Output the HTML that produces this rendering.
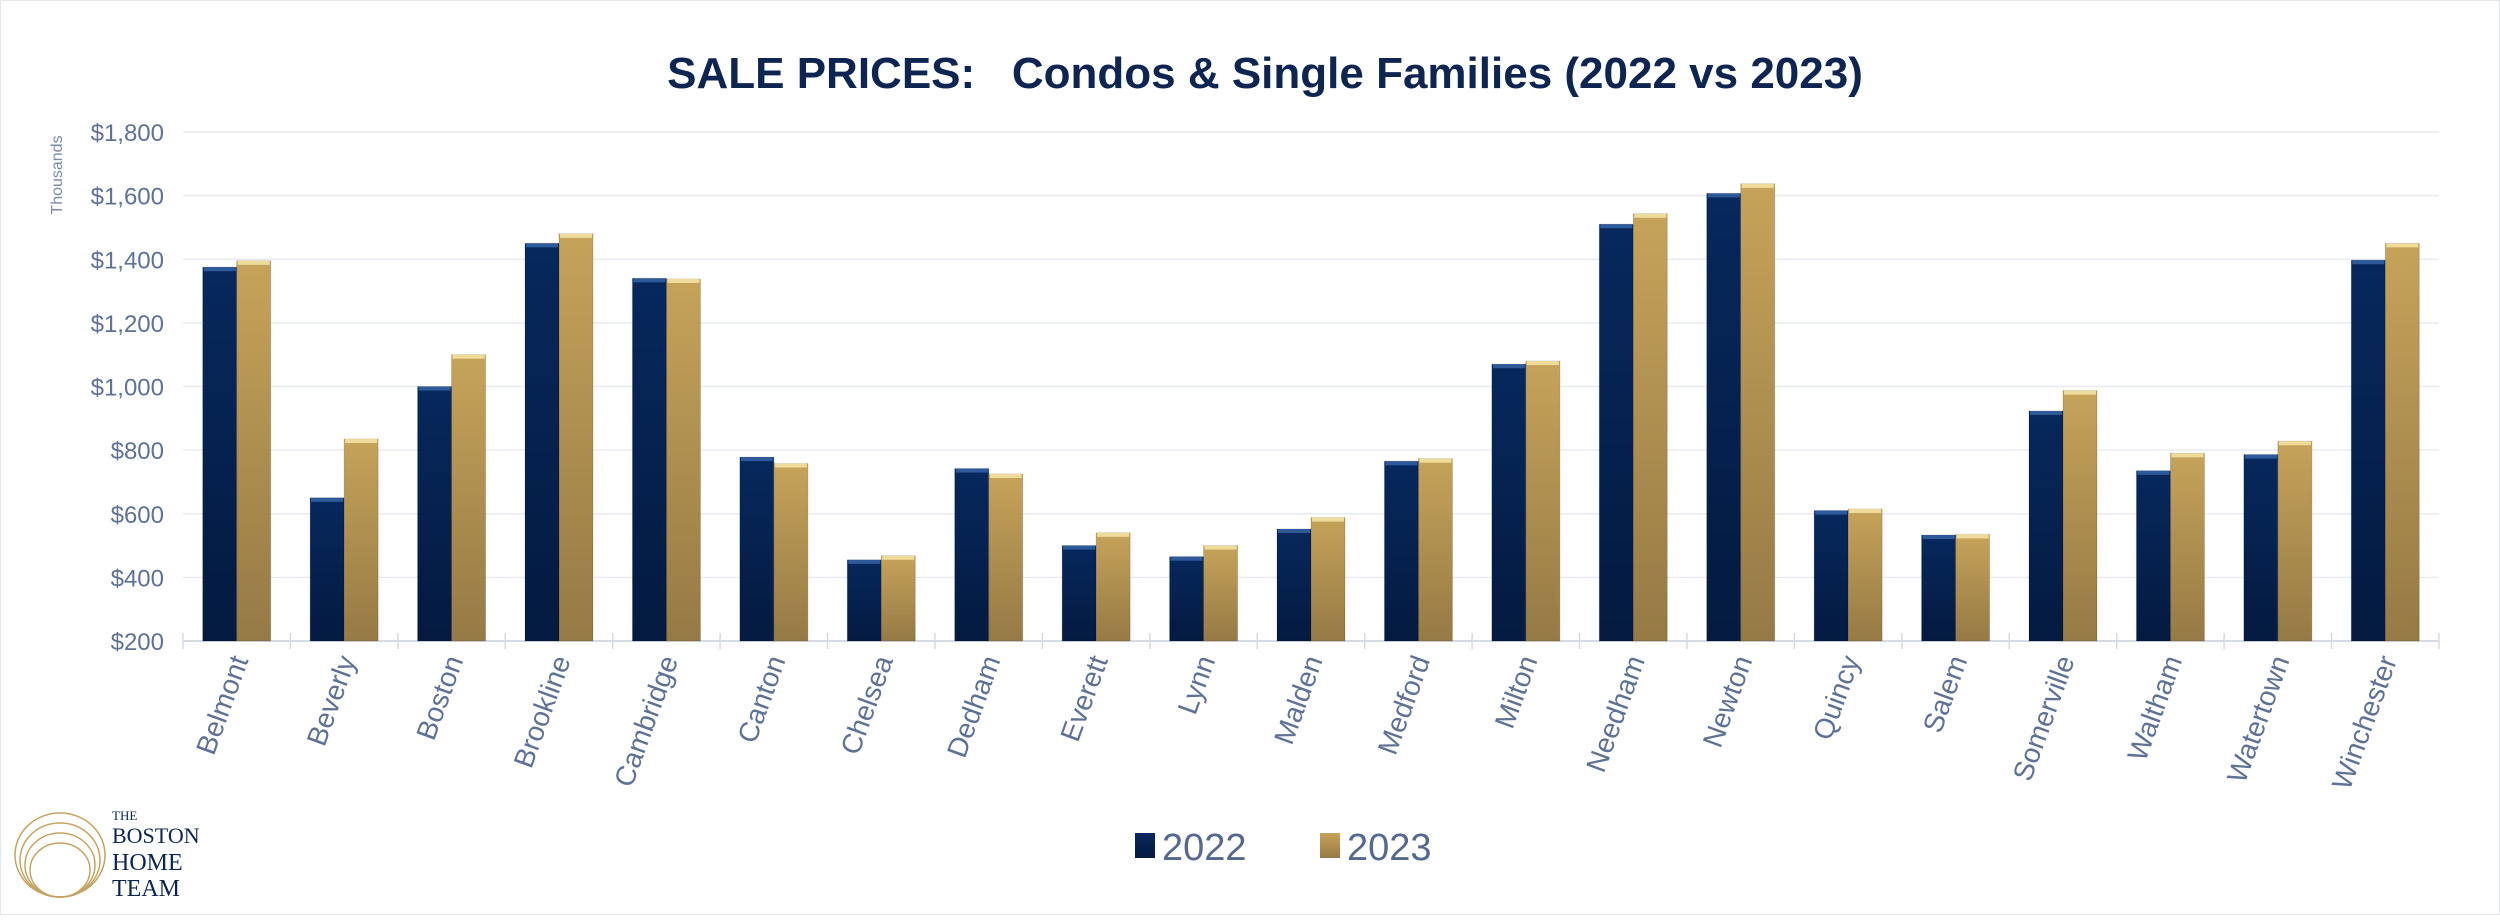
<!DOCTYPE html>
<html><head><meta charset="utf-8"><style>
html,body{margin:0;padding:0;background:#fff;}
body{width:2500px;height:915px;overflow:hidden;font-family:"Liberation Sans",sans-serif;}
</style></head><body>
<svg id="chart" width="2500" height="915" xmlns="http://www.w3.org/2000/svg">
<defs>
<linearGradient id="gNavy" x1="0" y1="0" x2="0" y2="1"><stop offset="0" stop-color="#06285d"/><stop offset="1" stop-color="#041a40"/></linearGradient>
<linearGradient id="gGold" x1="0" y1="0" x2="0" y2="1"><stop offset="0" stop-color="#c6a35a"/><stop offset="1" stop-color="#967a45"/></linearGradient>
</defs>
<rect x="0.5" y="0.5" width="2499" height="914" fill="#fff" stroke="#e3e6ea"/>
<text x="1265" y="88" text-anchor="middle" font-size="44" font-weight="bold" fill="#0d2550" style="white-space:pre">SALE PRICES:   Condos &amp; Single Families (2022 vs 2023)</text>
<text transform="translate(62,175) rotate(-90)" text-anchor="middle" font-size="16" fill="#7a8aa6">Thousands</text>
<g id="grid"></g><g id="bars"></g><g id="labels"></g>
<g>
<rect x="1135" y="833" width="20" height="25" fill="url(#gNavy)"/>
<text x="1162" y="860" font-size="38" fill="#55688e">2022</text>
<rect x="1320" y="833" width="20" height="25" fill="url(#gGold)"/>
<text x="1347" y="860" font-size="38" fill="#55688e">2023</text>
</g>
<g>
<g fill="none" stroke="#c4a463" stroke-width="1.5">
<ellipse cx="60" cy="855" rx="45" ry="42"/><ellipse cx="60" cy="860" rx="40" ry="37"/><ellipse cx="60" cy="865" rx="35" ry="32"/><ellipse cx="60" cy="870" rx="30" ry="27"/>
</g>
<text x="112" y="820" font-family="Liberation Serif,serif" font-size="13" fill="#0d2550">THE</text>
<text x="112" y="843" font-family="Liberation Serif,serif" font-size="22" fill="#0d2550">BOSTON</text>
<text x="112" y="870" font-family="Liberation Serif,serif" font-size="24" fill="#0d2550">HOME</text>
<text x="112" y="896" font-family="Liberation Serif,serif" font-size="24" fill="#0d2550">TEAM</text>
</g>
</svg>
<script>
const categories=["Belmont","Beverly","Boston","Brookline","Cambridge","Canton","Chelsea","Dedham","Everett","Lynn","Malden","Medford","Milton","Needham","Newton","Quincy","Salem","Somerville","Waltham","Watertown","Winchester"];
const values2022=[1375,650,1000,1450,1340,778,455,742,500,465,552,765,1070,1510,1607,610,533,923,735,786,1397];
const values2023=[1395,835,1100,1480,1338,758,468,725,540,500,588,773,1080,1543,1637,615,535,987,790,828,1450];
const yTicks=[200,400,600,800,1000,1200,1400,1600,1800];
const yTickLabels=["$200","$400","$600","$800","$1,000","$1,200","$1,400","$1,600","$1,800"];
const NS="http://www.w3.org/2000/svg";
const left=183,right=2439,yTop=132,yBot=641,yMin=200,yMax=1800;
const cw=(right-left)/categories.length;
function y(v){return yBot-(v-yMin)/(yMax-yMin)*(yBot-yTop);}
function x(i){return left+i*cw;}
function mk(t,a,p){const e=document.createElementNS(NS,t);for(const k in a)e.setAttribute(k,a[k]);p.appendChild(e);return e;}
const grid=document.getElementById('grid'),bars=document.getElementById('bars'),labels=document.getElementById('labels');
yTicks.forEach((v,i)=>{
 const l=mk('line',{x1:left,x2:right,y1:y(v),y2:y(v),stroke:i==0?'#d5dae3':'#e8ebf0','stroke-width':i==0?2:1.5},grid);
 
 
 const t=mk('text',{x:164,y:y(v)+9,'text-anchor':'end','font-size':24,fill:'#5f7194'},grid);
 t.textContent=yTickLabels[i];
 
 
});
for(let i=0;i<=categories.length;i++){
 const tk=mk('line',{x1:x(i),x2:x(i),y1:yBot-8,y2:yBot+8,stroke:'#d5dae3','stroke-width':1.5},grid);
 
 
}
const bw=34;
categories.forEach((c,i)=>{
 const x0=x(i)+(cw-2*bw)/2;
 [[values2022[i],'url(#gNavy)','#2f5a9a','bar-2022'],[values2023[i],'url(#gGold)','#f0dc9a','bar-2023']].forEach((s,j)=>{
  const bx=x0+j*bw,by=y(s[0]);
  const r=mk('rect',{x:bx,y:by,width:bw,height:yBot-by,fill:s[1],stroke:'rgba(0,0,0,0.15)','stroke-width':1},bars);
  
  
  const cap=mk('rect',{x:bx+1,y:by,width:bw-2,height:4,fill:s[2]},bars);
  
  
 });
 const cx=x(i)+cw/2+12;
 const t=mk('text',{transform:`translate(${cx},660) rotate(-70)`,'text-anchor':'end','font-size':28,fill:'#5f7194'},labels);
 t.textContent=c;
 
 
});
</script>
</body></html>
